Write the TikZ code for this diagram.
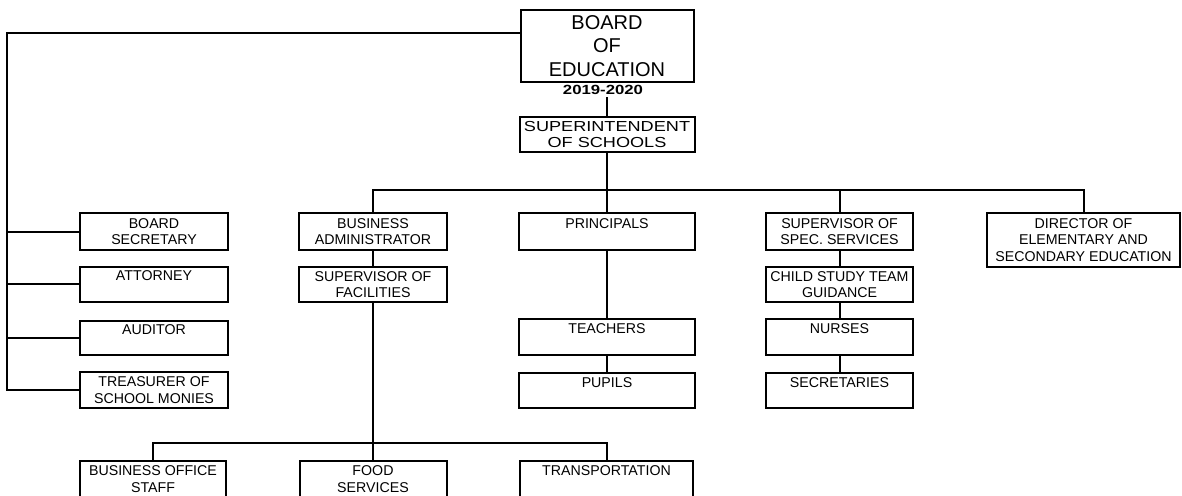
\documentclass[tikz,border=0pt]{standalone}
\usepackage{fontspec}
\setmainfont{Liberation Sans}
\usepackage{graphicx}
\tikzset{
  orgbox/.style={draw, line width=2pt, inner sep=0pt, align=center,
    font=\fontsize{14.2}{16.5}\selectfont},
  conn/.style={line width=2pt},
}
\begin{document}
\begin{tikzpicture}[x=1pt,y=-1pt]
\useasboundingbox (0,0) rectangle (1182,495);
\clip (0,0) rectangle (1182,495);

% top
\node[orgbox, minimum width=173pt, minimum height=72pt, font=\fontsize{20}{23.5}\selectfont] (board) at (607,46) {BOARD\\OF\\EDUCATION};
\node[inner sep=2pt, anchor=base, font=\bfseries\fontsize{13.3}{15}\selectfont] (yr) at (603,94.5) {\scalebox{1.26}[1]{2019-2020}};
\node[orgbox, minimum width=175pt, minimum height=35pt, font=\fontsize{14.5}{15.5}\selectfont] (sup) at (607,134.5) {\scalebox{1.25}[1]{SUPERINTENDENT}\\\scalebox{1.25}[1]{OF SCHOOLS}};

% left column
\node[orgbox, minimum width=148pt, minimum height=37pt] (bsec) at (154,231.5) {BOARD\\SECRETARY};
\node[orgbox, minimum width=148pt, minimum height=35pt] (att) at (154,284) {ATTORNEY\\\mbox{}};
\node[orgbox, minimum width=148pt, minimum height=34pt] (aud) at (154,337.5) {AUDITOR\\\mbox{}};
\node[orgbox, minimum width=148pt, minimum height=36pt] (treas) at (154,390) {TREASURER OF\\SCHOOL MONIES};

% business column
\node[orgbox, minimum width=148pt, minimum height=37pt] (ba) at (373,231.5) {BUSINESS\\ADMINISTRATOR};
\node[orgbox, minimum width=148pt, minimum height=35pt] (fac) at (373,284.5) {SUPERVISOR OF\\FACILITIES};

% principals column
\node[orgbox, minimum width=176pt, minimum height=37pt] (prin) at (607,231.5) {PRINCIPALS\\\mbox{}};
\node[orgbox, minimum width=176pt, minimum height=36pt] (teach) at (607,337) {TEACHERS\\\mbox{}};
\node[orgbox, minimum width=176pt, minimum height=35pt] (pup) at (607,390.5) {PUPILS\\\mbox{}};

% special services column
\node[orgbox, minimum width=147pt, minimum height=37pt] (spec) at (839.5,231.5) {SUPERVISOR OF\\SPEC. SERVICES};
\node[orgbox, minimum width=147pt, minimum height=35pt] (cst) at (839.5,284.5) {CHILD STUDY TEAM\\GUIDANCE};
\node[orgbox, minimum width=147pt, minimum height=36pt] (nur) at (839.5,337) {NURSES\\\mbox{}};
\node[orgbox, minimum width=147pt, minimum height=35pt] (sec) at (839.5,390.5) {SECRETARIES\\\mbox{}};

% director
\node[orgbox, minimum width=193pt, minimum height=54pt] (dir) at (1083.5,240) {DIRECTOR OF\\ELEMENTARY AND\\SECONDARY EDUCATION};

% bottom row
\node[orgbox, minimum width=146pt, minimum height=36pt] (bos) at (153,479) {BUSINESS OFFICE\\STAFF};
\node[orgbox, minimum width=147pt, minimum height=36pt] (food) at (373,479) {FOOD\\SERVICES};
\node[orgbox, minimum width=173pt, minimum height=36pt] (tr) at (606.5,479) {TRANSPORTATION\\\mbox{}};

% helper coordinates
\coordinate (spine) at (7,33);
\coordinate (bus) at (607,190);
\coordinate (lowbus) at (373,443);

% connectors
\draw[conn] ([yshift=13pt]board.west) -- (spine) |- (treas.west);
\foreach \n in {bsec,att,aud} \draw[conn] (spine |- \n.west) -- (\n.west);
\draw[conn] (sup.north) -- (sup.north |- yr.south);
\draw[conn] (sup.south) -- (bus);
\draw[conn] (ba.north) -- (ba.north |- bus) -- (dir.north |- bus) -- (dir.north);
\draw[conn] (prin.north) -- (prin.north |- bus);
\draw[conn] (spec.north) -- (spec.north |- bus);
\draw[conn] (ba.south) -- (fac.north);
\draw[conn] (fac.south) -- (food.north);
\draw[conn] (bos.north) -- (bos.north |- lowbus) -- (tr.north |- lowbus) -- (tr.north);
\draw[conn] (prin.south) -- (teach.north);
\draw[conn] (teach.south) -- (pup.north);
\draw[conn] (spec.south) -- (cst.north);
\draw[conn] (cst.south) -- (nur.north);
\draw[conn] (nur.south) -- (sec.north);
\end{tikzpicture}
\end{document}
